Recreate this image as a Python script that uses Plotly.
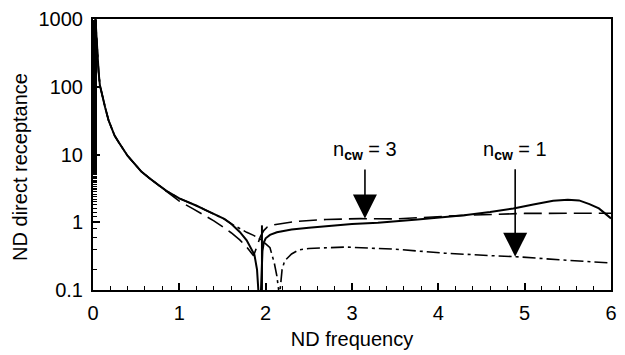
import math
import plotly.graph_objects as go

# ---- data ----
x_common = [0.025, 0.035, 0.05, 0.065, 0.08, 0.11, 0.14, 0.18, 0.22, 0.25, 0.3,
            0.35, 0.4, 0.45, 0.5, 0.56, 0.65, 0.75]
y_common = [1200, 700, 330, 165, 105, 70, 50, 32, 23, 19, 15,
            12, 9.6, 8.1, 6.8, 5.6, 4.5, 3.6]

# exact solution (solid)
x_exact = x_common + [0.85, 1.0, 1.1, 1.2, 1.3, 1.44, 1.52, 1.6, 1.7, 1.78, 1.84,
                      1.87, 1.9, 1.92, None, 1.957, 1.957, None,
                      1.943, 1.953, 1.963, 1.978, 2.0, 2.05, 2.13, 2.3, 2.5, 3.0,
                      3.3, 3.76, 4.3, 4.6, 4.87, 5.1, 5.33, 5.5, 5.63, 5.75,
                      5.86, 6.0]
y_exact = y_common + [2.9, 2.25, 2.0, 1.75, 1.52, 1.27, 1.12, 0.95, 0.72, 0.54, 0.4,
                      0.33, 0.2, 0.08, None, 0.08, 0.9, None,
                      0.08, 0.2, 0.38, 0.5, 0.58, 0.65, 0.71, 0.78, 0.83, 0.94,
                      0.98, 1.1, 1.27, 1.42, 1.6, 1.83, 2.08, 2.15, 2.1, 1.85,
                      1.6, 1.14]

# n_cw = 3 (long dash)
x_n3 = x_common + [0.85, 1.0, 1.15, 1.29, 1.4, 1.5, 1.6, 1.7, 1.78, 1.86, 1.9,
                   1.94, 1.98, 2.02, 2.1, 2.2, 2.35, 2.7, 3.1, 3.5, 3.87, 4.33,
                   5.0, 5.4, 6.0]
y_n3 = y_common + [2.85, 2.05, 1.6, 1.27, 1.05, 0.86, 0.7, 0.55, 0.43, 0.32, 0.45,
                   0.62, 0.76, 0.85, 0.92, 0.97, 1.03, 1.1, 1.13, 1.12, 1.18, 1.27,
                   1.35, 1.36, 1.36]

# n_cw = 1 (dash-dot)
x_n1 = x_common + [0.85, 1.0, 1.1, 1.2, 1.3, 1.44, 1.52, 1.6, 1.7, 1.78, 1.86,
                   1.95, 2.05, 2.1, 2.13, 2.16, 2.19, 2.22, 2.3, 2.38, 2.5, 2.7,
                   2.93, 3.5, 4.07, 4.64, 4.9, 5.4, 6.0]
y_n1 = y_common + [2.9, 2.25, 2.0, 1.75, 1.52, 1.27, 1.12, 0.95, 0.8, 0.71, 0.64,
                   0.55, 0.42, 0.25, 0.16, 0.08, 0.2, 0.27, 0.34, 0.39, 0.41, 0.42,
                   0.43, 0.4, 0.35, 0.32, 0.31, 0.28, 0.25]

x_ticks = [0, 1, 2, 3, 4, 5, 6]
y_ticks = [0.1, 1, 10, 100, 1000]
y_tick_labels = ["0.1", "1", "10", "100", "1000"]

arrow_labels = ["n<sub><b>cw</b></sub> = 3", "n<sub><b>cw</b></sub> = 1"]
arrow_x = [3.15, 4.89]
arrow_y = [1.14, 0.31]

FONT = "Liberation Sans, Arial, sans-serif"
FS = 20

fig = go.Figure()
fig.add_trace(go.Scatter(x=x_exact, y=y_exact, mode="lines",
                         line=dict(color="black", width=2)))
fig.add_trace(go.Scatter(x=x_n3, y=y_n3, mode="lines",
                         line=dict(color="black", width=1.6, dash="18px,7px")))
fig.add_trace(go.Scatter(x=x_n1, y=y_n1, mode="lines",
                         line=dict(color="black", width=1.6, dash="13px,4px,3px,4px")))

fig.update_layout(
    width=625, height=355,
    margin=dict(l=93, r=8, t=17, b=65),
    paper_bgcolor="white", plot_bgcolor="white",
    showlegend=False,
    font=dict(family=FONT, size=FS, color="black"),
)

PLOT_TOP, PLOT_H = 17, 355 - 17 - 65
LABEL_CENTER_Y = 150
for lab, xv, yv in zip(arrow_labels, arrow_x, arrow_y):
    frac = (math.log10(yv) + 1) / 4.0
    tip_px = PLOT_TOP + (1 - frac) * PLOT_H
    fig.add_annotation(x=xv, y=math.log10(yv), xref="x", yref="y", text=lab,
                       showarrow=True, arrowhead=2, arrowsize=3.0, arrowwidth=1.6,
                       arrowcolor="black", axref="pixel", ayref="pixel",
                       ax=0, ay=-(tip_px - LABEL_CENTER_Y), standoff=0,
                       startstandoff=5,
                       font=dict(family=FONT, size=FS, color="black"))

# y-axis title as an annotation for exact vertical placement
fig.add_annotation(text="ND direct receptance", xref="paper", yref="paper",
                   x=0, y=(290 - 166) / PLOT_H, xshift=-73, textangle=-90,
                   showarrow=False, xanchor="center", yanchor="middle",
                   font=dict(family=FONT, size=FS, color="black"))

fig.update_xaxes(range=[0, 6], tickvals=x_ticks, ticks="inside", ticklen=7,
                 tickwidth=1.5, tickcolor="black", showline=True, linewidth=2,
                 linecolor="black", mirror=True, showgrid=False, zeroline=False,
                 minor=dict(ticks="inside", ticklen=4, dtick=0.2, tickwidth=1.2,
                            tickcolor="black", showgrid=False),
                 title=dict(text="ND frequency", standoff=9,
                            font=dict(family=FONT, size=FS)),
                 tickfont=dict(family=FONT, size=FS), ticklabelstandoff=4)
fig.update_yaxes(type="log", range=[-1, 3], tickvals=y_ticks, ticktext=y_tick_labels,
                 ticks="inside", ticklen=7, tickwidth=1.5, tickcolor="black",
                 showline=True, linewidth=2, linecolor="black", mirror=True,
                 showgrid=False, zeroline=False,
                 minor=dict(ticks="inside", ticklen=4, tickwidth=1.2,
                            tickcolor="black", showgrid=False),
                 tickfont=dict(family=FONT, size=FS), ticklabelstandoff=4)

fig.write_html("out.html")
